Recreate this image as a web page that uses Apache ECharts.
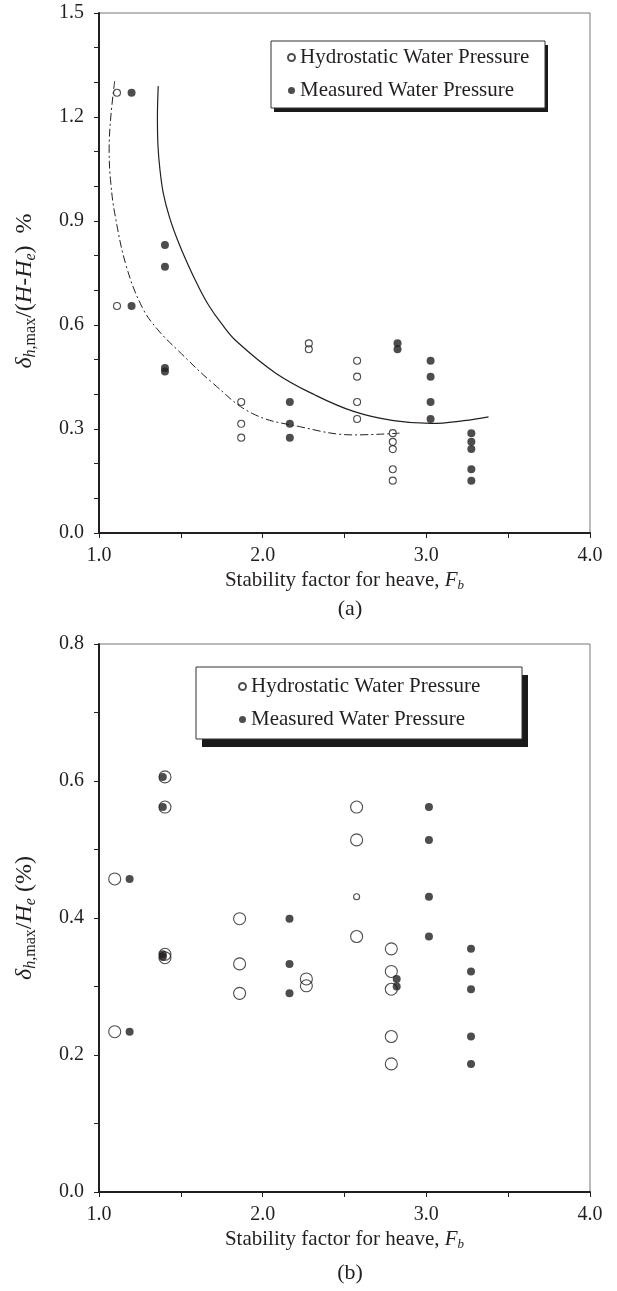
<!DOCTYPE html>
<html>
<head>
<meta charset="utf-8">
<script src="https://cdn.jsdelivr.net/npm/echarts@6/dist/echarts.min.js"></script>
<style>
  html, body { margin: 0; padding: 0; background: #fff; }
  #main { width: 617px; height: 1291px; }
</style>
</head>
<body>
<div id="main"></div>
<script>
// (a) delta_h,max/(H-He) vs Fb
var hydroA = [[1.11, 1.27], [1.11, 0.655], [1.869, 0.378], [1.869, 0.315], [1.869, 0.275],
    [2.282, 0.547], [2.282, 0.530], [2.577, 0.497], [2.577, 0.451], [2.577, 0.378], [2.577, 0.329],
    [2.795, 0.288], [2.795, 0.263], [2.795, 0.242], [2.795, 0.184], [2.795, 0.151]];
var measA = [[1.199, 1.27], [1.199, 0.655], [1.403, 0.831], [1.403, 0.768], [1.403, 0.476], [1.403, 0.466],
    [2.166, 0.378], [2.166, 0.315], [2.166, 0.275], [2.824, 0.547], [2.824, 0.530],
    [3.026, 0.497], [3.026, 0.451], [3.026, 0.378], [3.026, 0.329],
    [3.275, 0.288], [3.275, 0.263], [3.275, 0.242], [3.275, 0.184], [3.275, 0.151]];
// fitted curves
var fitDashA = [[1.096, 1.304], [1.072, 1.20], [1.062, 1.105], [1.072, 1.01], [1.10, 0.912],
    [1.168, 0.768], [1.264, 0.651], [1.36, 0.586], [1.48, 0.528], [1.696, 0.432],
    [1.936, 0.345], [2.224, 0.307], [2.56, 0.283], [2.836, 0.288]];
var fitSolidA = [[1.362, 1.289], [1.357, 1.20], [1.36, 1.12], [1.372, 1.05], [1.393, 0.98], [1.43, 0.912],
    [1.48, 0.845], [1.54, 0.778], [1.60, 0.718], [1.67, 0.657], [1.75, 0.603], [1.84, 0.553],
    [2.08, 0.461], [2.32, 0.398], [2.56, 0.350], [2.80, 0.324], [3.03, 0.316], [3.23, 0.324], [3.38, 0.335]];

// (b) delta_h,max/He vs Fb
var hydroB = [[1.096, 0.457], [1.096, 0.234], [1.403, 0.606], [1.403, 0.562], [1.403, 0.347], [1.403, 0.342],
    [1.859, 0.399], [1.859, 0.333], [1.859, 0.290], [2.267, 0.311], [2.267, 0.301],
    [2.574, 0.562], [2.574, 0.514], [2.574, 0.373],
    [2.786, 0.355], [2.786, 0.322], [2.786, 0.296], [2.786, 0.227], [2.786, 0.187]];
var hydroBSmall = [[2.574, 0.431]];
var measB = [[1.187, 0.457], [1.187, 0.234], [1.39, 0.606], [1.39, 0.562], [1.39, 0.347], [1.39, 0.343],
    [2.164, 0.399], [2.164, 0.333], [2.164, 0.290], [2.819, 0.311], [2.819, 0.300],
    [3.016, 0.562], [3.016, 0.514], [3.016, 0.431], [3.016, 0.373],
    [3.273, 0.355], [3.273, 0.322], [3.273, 0.296], [3.273, 0.227], [3.273, 0.187]];

var names = ['Hydrostatic Water Pressure', 'Measured Water Pressure'];

var serif = '"Liberation Serif", "Times New Roman", serif';
var ink = '#231f20';

var richX = {
    n: {fontFamily: serif, fontSize: 21, color: ink, lineHeight: 24},
    i: {fontFamily: serif, fontSize: 21, fontStyle: 'italic', color: ink, lineHeight: 24},
    si: {fontFamily: serif, fontSize: 13, fontStyle: 'italic', color: ink, lineHeight: 14, verticalAlign: 'bottom'}
};
var richY = {
    n: {fontFamily: serif, fontSize: 24, color: ink, lineHeight: 28},
    i: {fontFamily: serif, fontSize: 24, fontStyle: 'italic', color: ink, lineHeight: 28},
    si: {fontFamily: serif, fontSize: 16, fontStyle: 'italic', color: ink, lineHeight: 17, verticalAlign: 'bottom'},
    s: {fontFamily: serif, fontSize: 16, color: ink, lineHeight: 17, verticalAlign: 'bottom'}
};

function xAxis(idx) {
    return {
        gridIndex: idx, type: 'value', min: 1, max: 4, interval: 0.5,
        name: '{n|Stability factor for heave, }{i|F}{si|b}',
        nameLocation: 'middle', nameGap: 35,
        nameTextStyle: {rich: richX},
        axisLine: {lineStyle: {color: ink, width: 2}},
        axisTick: {length: 5, lineStyle: {color: ink, width: 1}},
        splitLine: {show: false},
        axisLabel: {
            color: ink, fontFamily: serif, fontSize: 20, margin: 13,
            formatter: function (v) {
                return Math.round(v * 10) % 10 === 0 ? v.toFixed(1) : '';
            }
        }
    };
}

function yAxis(idx, max, step, name, pad) {
    return {
        gridIndex: idx, type: 'value', min: 0, max: max, interval: 0.1,
        name: name, nameLocation: 'middle', nameGap: 60,
        nameTextStyle: {rich: richY, padding: pad},
        axisLine: {lineStyle: {color: ink, width: 2}},
        axisTick: {length: 5, lineStyle: {color: ink, width: 1}},
        splitLine: {show: false},
        axisLabel: {
            color: ink, fontFamily: serif, fontSize: 20, margin: 15,
            formatter: function (v) {
                var k = Math.round(v * 10);
                return k % step === 0 ? (k / 10).toFixed(1) : '';
            }
        }
    };
}

function legend(left, top, pad) {
    return {
        orient: 'vertical', left: left, top: top, padding: pad,
        itemWidth: 7, itemHeight: 7, itemGap: 12, icon: 'circle',
        data: names, selectedMode: false,
        textStyle: {color: ink, fontFamily: serif, fontSize: 21, lineHeight: 21}
    };
}

// framed legend box with a hard drop shadow
function legendBox(x, y, w, h, dx, dy) {
    return [
        {type: 'rect', shape: {x: x + dx, y: y + dy, width: w, height: h}, style: {fill: '#1a1a1a'}, silent: true},
        {type: 'rect', shape: {x: x, y: y, width: w, height: h}, style: {fill: '#fff', stroke: '#333', lineWidth: 1}, silent: true}
    ];
}

function caption(text, x, y) {
    return {type: 'text', x: x, y: y, silent: true,
        style: {text: text, font: '22px ' + serif, fill: ink,
            align: 'center', verticalAlign: 'middle', textAlign: 'center', textVerticalAlign: 'middle'}};
}

var openStyle = {color: 'rgba(255,255,255,0)', borderColor: ink, borderWidth: 1.1};
var fillStyle = {color: ink};

var chart = echarts.init(document.getElementById('main'));
chart.setOption({
    animation: false,
    backgroundColor: '#fff',
    grid: [
        {left: 99, top: 13, width: 491, height: 520, show: true, borderColor: '#777', borderWidth: 1},
        {left: 99, top: 644, width: 491, height: 548, show: true, borderColor: '#777', borderWidth: 1}
    ],
    xAxis: [xAxis(0), xAxis(1)],
    yAxis: [
        yAxis(0, 1.5, 3, '{i|δ}{si|h}{s|,max}{n|/(}{i|H}{n|-}{i|H}{si|e}{n|)  %}', [0, 36, 0, 0]),
        yAxis(1, 0.8, 2, '{i|δ}{si|h}{s|,max}{n|/}{i|H}{si|e}{n| (%)}', 0)
    ],
    legend: [
        legend(271, 41, [6, 15, 7, 16]),
        legend(196, 667, [9, 41, 9, 42])
    ],
    graphic: legendBox(271, 41, 274, 67, 3, 4)
        .concat(legendBox(196, 667, 326, 72, 6, 8))
        .concat([caption('(a)', 350, 609), caption('(b)', 350, 1273)]),
    series: [
        {type: 'line', xAxisIndex: 0, yAxisIndex: 0, data: fitDashA, smooth: 0.4, showSymbol: false,
            silent: true, lineStyle: {color: ink, width: 1, type: [8, 3, 2, 3]}},
        {type: 'line', xAxisIndex: 0, yAxisIndex: 0, data: fitSolidA, smooth: 0.4, showSymbol: false,
            silent: true, lineStyle: {color: ink, width: 1.2}},
        {name: names[0], type: 'scatter', xAxisIndex: 0, yAxisIndex: 0, data: hydroA,
            symbol: 'circle', symbolSize: 7, itemStyle: openStyle},
        {name: names[1], type: 'scatter', xAxisIndex: 0, yAxisIndex: 0, data: measA,
            symbol: 'circle', symbolSize: 8, itemStyle: fillStyle},
        {name: names[1], type: 'scatter', xAxisIndex: 1, yAxisIndex: 1, data: measB,
            symbol: 'circle', symbolSize: 8, itemStyle: fillStyle},
        {name: names[0], type: 'scatter', xAxisIndex: 1, yAxisIndex: 1, data: hydroB,
            symbol: 'circle', symbolSize: 12, itemStyle: openStyle},
        {name: names[0], type: 'scatter', xAxisIndex: 1, yAxisIndex: 1, data: hydroBSmall,
            symbol: 'circle', symbolSize: 6, itemStyle: openStyle}
    ]
});
</script>
</body>
</html>
